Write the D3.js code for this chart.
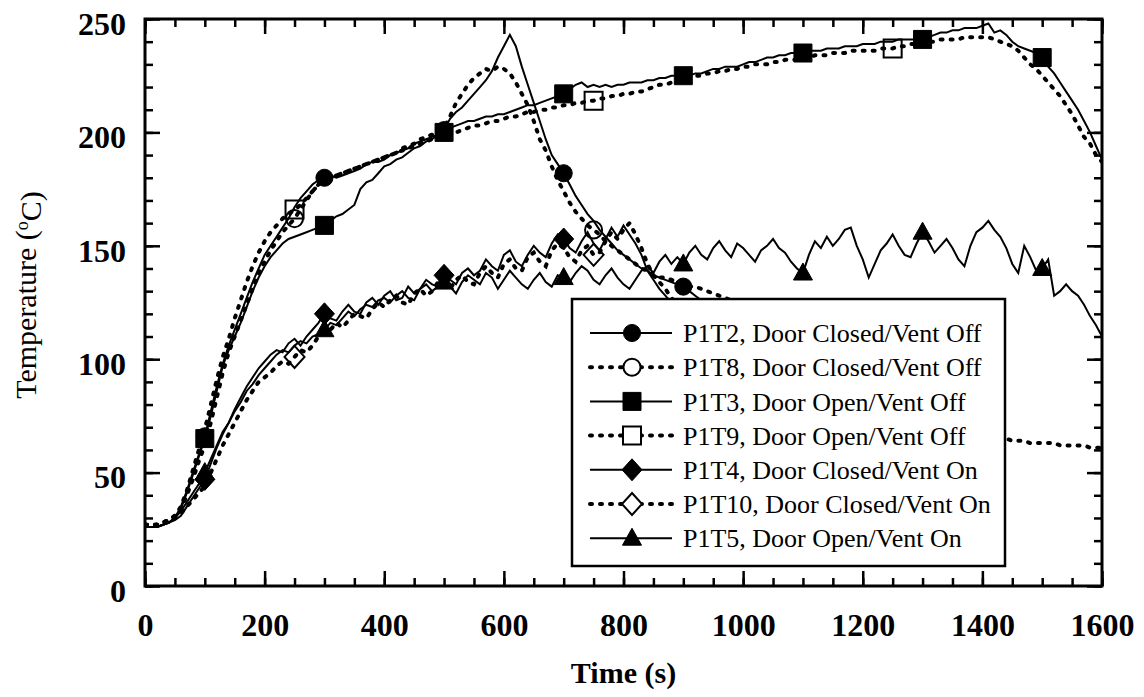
<!DOCTYPE html>
<html>
<head>
<meta charset="utf-8">
<style>
    body{ margin:0; background:#fff; }
    svg text{ font-family:"Liberation Serif","Times New Roman",serif !important; fill:#000; }
    .axis text{ font-size:32px; font-weight:bold; }
    .axis line{ stroke:#000; stroke-width:2.5px; }
    .axis .domain{ display:none; }
    .line{ fill:none; stroke:#000; }
    .solid{ stroke-width:2px; }
    .dotted{ stroke-width:4px; stroke-dasharray:2 8; stroke-linecap:round; }
    .legend text{ font-size:26px; }
</style>
</head>
<body>
<div id="chart"></div>
<script src="https://d3js.org/d3.v7.min.js"></script>
<script>
// samples every 10 s starting at t = 0
var timeStep = 10;

var p1t2 = [26,26,26,27,28,30, 35,42,50,58,66,
    77,88,98,106,113,120,127,134,140,146,
    150,154,158,162,167,171,174,177,179,180,
    181,180,181,182,183,184,186,187,187,188,
    190,191,192,193,195,196,197,198,199,201,
    206,209,211,214,217,220,223,227,233,238,
    243,238,229,221,213,205,197,190,186,182,
    177,172,168,164,161,157,154,151,148,146,
    144,142,140,139,137,136,135,134,133,132,
    130,128,126,124,122,120,118,116,115,113,
    112,110,109,108,106,105,104,102,101,100,
    99,97,96,95,94,93,92,90,89,88,
    87,86,85,84,83,82,81,80,79,78,
    77,76,76,75,74,73,72,72,71,70];

var p1t8 = [27,27,27,28,29,31, 34,40,47,55,62,
    72,83,94,103,110,117,124,131,138,143,
    148,152,156,159,162,166,170,174,177,179,
    180,181,182,183,184,185,186,187,188,189,
    190,191,193,194,195,197,198,199,200,202,
    207,213,217,221,224,226,228,227,229,228,
    226,222,217,212,205,197,192,185,179,174,
    169,165,162,159,157,155,152,150,148,146,
    144,142,140,139,137,136,136,135,134,133,
    132,132,131,130,129,128,127,126,124,122,
    121,119,117,116,114,113,111,109,108,106,
    104,103,101,99,98,96,95,93,92,90,
    89,87,86,85,83,82,81,79,78,77,
    76,75,74,72,71,70,69,68,68,67,
    66,66,65,65,64,64,64,63,63,63,
    63,63,62,62,62,62,62,61,61,61];

var p1t3 = [26,26,26,27,28,30, 34,41,49,57,65,
    75,86,97,104,110,116,123,130,136,141,
    145,148,151,153,154,155,156,157,158,159,
    161,163,164,166,168,175,178,179,182,185,
    186,188,189,191,193,194,196,197,199,200,
    202,203,204,205,205,206,207,207,208,208,
    209,210,211,212,212,213,214,215,216,217,
    219,221,222,220,221,220,221,220,221,221,
    222,222,222,223,223,224,224,225,225,225,
    225,226,226,227,228,228,229,229,229,230,
    231,231,232,233,233,234,234,235,235,235,
    236,236,236,237,237,237,238,238,238,239,
    239,239,240,240,240,241,241,241,241,241,
    242,243,244,244,245,245,246,246,246,247,
    248,244,245,243,240,238,237,236,235,233,
    229,226,222,218,214,210,205,200,194,188];

var p1t9 = [27,27,27,28,29,31, 35,42,51,60,69,
    80,91,101,109,118,126,134,141,147,152,
    156,159,162,164,166,168,171,174,177,179,
    180,181,182,183,184,185,186,187,188,189,
    190,191,192,193,194,195,196,197,198,199,
    200,200,201,202,203,203,204,205,205,206,
    207,207,208,209,209,210,210,211,211,212,
    212,213,213,214,214,215,215,216,216,217,
    217,218,218,219,220,221,221,222,223,224,
    224,225,225,226,226,227,227,228,228,229,
    229,230,230,230,231,231,232,232,232,233,
    233,234,234,234,235,235,235,236,236,236,
    236,236,237,237,237,238,238,239,239,240,
    240,240,241,241,241,241,242,242,242,242,
    242,241,240,239,238,236,233,230,228,225,
    222,219,216,212,208,203,198,195,190,187];

var p1t4 = [26,26,26,27,28,29, 31,35,39,43,47,
    54,61,67,72,78,83,88,92,96,99,
    102,104,103,107,109,106,110,113,116,120,
    118,117,121,124,121,120,125,127,124,128,
    130,126,127,132,129,131,135,133,132,137,
    135,133,138,140,137,139,144,141,139,146,
    148,143,141,146,150,147,145,151,155,153,
    149,147,152,156,151,148,153,158,154,159,
    155,151,146,139,135,131,128,125,121,117,
    117,116,114,113,112,111,110,109,108,107,
    106,105,104,103,102,101,100,99,99,98,
    97,96,95,94,93,92,92,91,90,89,
    88,88,87,86,85,84,84,83,82,81,
    81,80,79,79,78,77,77,76,75,75];

var p1t10 = [27,27,27,28,29,30, 32,35,38,41,44,
    50,56,62,67,72,77,82,86,90,92,
    94,97,99,98,101,104,103,106,110,112,
    113,116,114,117,120,119,118,122,125,123,
    126,128,125,124,129,131,128,130,134,133,
    131,135,137,134,133,138,141,138,136,142,
    144,140,139,145,147,143,141,148,151,149,
    145,143,148,150,146,147,152,156,153,157,
    160,155,149,142,137,134,131,127,124,121,
    119,117,116,114,113,112,111,110,109,108,
    107,106,105,104,103,102,101,100,99,98,
    97,96,95,94,93,92,91,90,89,88,
    87,86,86,85,84,83,82,82,81,80,
    79,78,78,77,76,76,75,74,74,73];

var p1t5 = [26,26,26,27,28,30, 33,37,41,45,50,
    56,62,68,72,77,81,86,89,93,96,
    99,102,104,103,106,108,107,110,111,113,
    116,115,118,121,119,122,124,123,126,127,
    125,128,130,127,126,131,133,130,132,134,
    132,129,134,137,135,133,138,136,131,135,
    139,136,133,131,135,138,134,132,137,136,
    134,138,141,139,135,133,137,140,136,133,
    131,135,139,141,138,143,146,142,145,142,
    147,150,146,144,149,152,148,145,151,149,
    146,143,148,150,153,149,147,143,140,138,
    146,152,149,154,150,153,157,158,150,144,
    136,142,148,151,155,150,146,145,151,156,
    152,147,150,153,149,144,141,150,156,158,
    161,157,154,149,142,138,150,145,139,140,
    144,128,130,133,130,128,124,119,115,110];

var labels = ["P1T2, Door Closed/Vent Off", "P1T8, Door Closed/Vent Off",
    "P1T3, Door Open/Vent Off", "P1T9, Door Open/Vent Off",
    "P1T4, Door Closed/Vent On", "P1T10, Door Closed/Vent On",
    "P1T5, Door Open/Vent On"];
var dotted = [false, true, false, true, false, true, false];
var shapes = ["circle", "circle", "square", "square", "diamond", "diamond", "triangle"];
var filledMarkTimes = [100, 300, 500, 700, 900, 1100, 1300, 1500];
var openMarkTimes = [250, 750, 1250];

var xTicks = [0, 200, 400, 600, 800, 1000, 1200, 1400, 1600];
var yTicks = [0, 50, 100, 150, 200, 250];

var seriesValues = [p1t2, p1t8, p1t3, p1t9, p1t4, p1t10, p1t5];
var series = labels.map(function(name, i) {
    return {
        name: name,
        dotted: dotted[i],
        shape: shapes[i],
        marks: dotted[i] ? openMarkTimes : filledMarkTimes,
        points: seriesValues[i].map(function(v, j) { return {t: j * timeStep, v: v}; })
    };
});

var margin = {top: 19, right: 42, bottom: 111, left: 145},
    width = 1144 - margin.left - margin.right,
    height = 697 - margin.top - margin.bottom;

var svg = d3.select("#chart").append("svg")
    .attr("width", 1144)
    .attr("height", 697);

var g = svg.append("g").attr("transform", "translate(" + margin.left + "," + margin.top + ")");

var x = d3.scaleLinear().domain([0, 1600]).range([0, width]);
var y = d3.scaleLinear().domain([0, 250]).range([height, 0]);

g.append("clipPath").attr("id", "plot-clip")
  .append("rect").attr("width", width).attr("height", height);

// marker shapes
function markerPath(shape) {
    if (shape == "circle") return d3.symbol().type(d3.symbolCircle).size(230)();
    if (shape == "square") return "M-9,-9H9V9H-9Z";
    if (shape == "diamond") return "M0,-11L10,0L0,11L-10,0Z";
    return "M0,-10L9.5,7L-9.5,7Z";
}

var line = d3.line()
    .x(function(d) { return x(d.t); })
    .y(function(d) { return y(d.v); });

var plot = g.append("g").attr("clip-path", "url(#plot-clip)");

series.forEach(function(s) {
    plot.append("path")
        .datum(s.points)
        .attr("class", "line " + (s.dotted ? "dotted" : "solid"))
        .attr("d", line);
});

series.forEach(function(s) {
    var pts = s.points.filter(function(d) { return s.marks.indexOf(d.t) >= 0; });
    plot.selectAll(null)
        .data(pts)
        .enter().append("path")
        .attr("d", markerPath(s.shape))
        .attr("transform", function(d) { return "translate(" + x(d.t) + "," + y(d.v) + ")"; })
        .attr("fill", s.dotted ? "none" : "#000")
        .attr("stroke", "#000")
        .attr("stroke-width", s.dotted ? 2 : 1);
});

// legend box
var legend = g.append("g").attr("class", "legend")
    .attr("transform", "translate(" + (572 - margin.left) + "," + (299 - margin.top) + ")");

legend.append("rect")
    .attr("width", 433).attr("height", 267)
    .attr("fill", "#fff").attr("stroke", "#000").attr("stroke-width", 2.5);

var rows = legend.selectAll(".row")
    .data(series)
    .enter().append("g")
    .attr("class", "row")
    .attr("transform", function(d, i) { return "translate(0," + (34 + i * 34.2) + ")"; });

rows.append("line")
    .attr("class", function(d) { return "line " + (d.dotted ? "dotted" : "solid"); })
    .attr("x1", 18).attr("x2", 100);

rows.append("path")
    .attr("d", function(d) { return markerPath(d.shape); })
    .attr("transform", "translate(60,0)")
    .attr("fill", function(d) { return d.dotted ? "#fff" : "#000"; })
    .attr("stroke", "#000")
    .attr("stroke-width", function(d) { return d.dotted ? 2 : 1; });

rows.append("text")
    .attr("x", 111)
    .attr("dy", "0.35em")
    .text(function(d) { return d.name; });

// axes, ticks pointing inward on all four sides
var xMinor = d3.range(0, 1601, 50);
var yMinor = d3.range(0, 251, 10);

g.append("g").attr("class", "axis")
    .attr("transform", "translate(0," + height + ")")
    .call(d3.axisBottom(x).tickValues(xMinor).tickSize(-8).tickFormat(""));
g.append("g").attr("class", "axis")
    .attr("transform", "translate(0," + height + ")")
    .call(d3.axisBottom(x).tickValues(xTicks).tickSize(-15).tickPadding(27).tickFormat(d3.format("d")));

g.append("g").attr("class", "axis")
    .call(d3.axisTop(x).tickValues(xMinor).tickSize(-8).tickFormat(""));
g.append("g").attr("class", "axis")
    .call(d3.axisTop(x).tickValues(xTicks).tickSize(-15).tickFormat(""));

g.append("g").attr("class", "axis")
    .call(d3.axisLeft(y).tickValues(yMinor).tickSize(-8).tickFormat(""));
g.append("g").attr("class", "axis")
    .call(d3.axisLeft(y).tickValues(yTicks).tickSize(-15).tickPadding(19).tickFormat(d3.format("d")))
    .selectAll("text").attr("dy", "0.48em");

g.append("g").attr("class", "axis")
    .attr("transform", "translate(" + width + ",0)")
    .call(d3.axisRight(y).tickValues(yMinor).tickSize(-8).tickFormat(""));
g.append("g").attr("class", "axis")
    .attr("transform", "translate(" + width + ",0)")
    .call(d3.axisRight(y).tickValues(yTicks).tickSize(-15).tickFormat(""));

g.append("rect")
    .attr("width", width).attr("height", height)
    .attr("fill", "none").attr("stroke", "#000").attr("stroke-width", 3);

// axis titles
svg.append("text")
    .attr("x", margin.left + width / 2)
    .attr("y", 683)
    .attr("text-anchor", "middle")
    .style("font-size", "30px").style("font-weight", "bold")
    .text("Time (s)");

var yTitle = svg.append("text")
    .attr("transform", "translate(36," + 295 + ") rotate(-90)")
    .attr("text-anchor", "middle")
    .style("font-size", "30px");
yTitle.append("tspan").text("Temperature (");
yTitle.append("tspan").attr("dy", "-0.45em").style("font-size", "18px").text("o");
yTitle.append("tspan").attr("dy", "0.45em").text("C)");
</script>
</body>
</html>
